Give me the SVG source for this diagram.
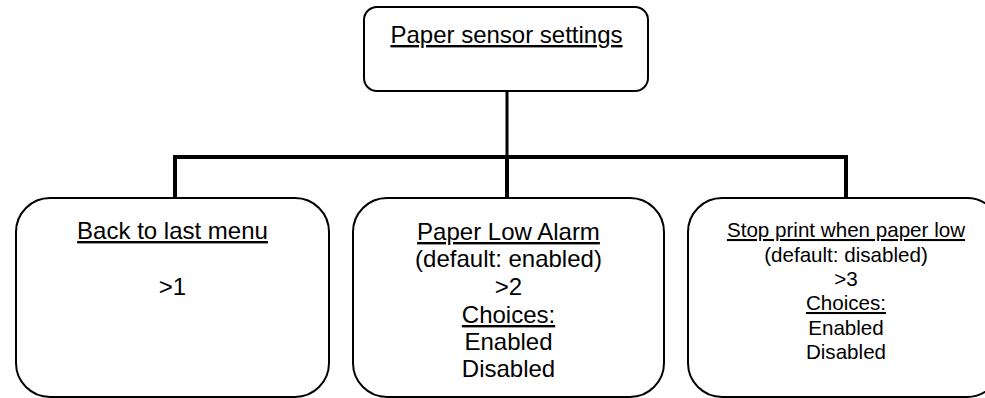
<svg xmlns="http://www.w3.org/2000/svg" width="985" height="398" viewBox="0 0 985 398">
<style>
.box{fill:#fff;stroke:#000;stroke-width:2}
.t{font-family:"Liberation Sans",Arial,sans-serif;font-size:24px;fill:#000;text-anchor:middle}
.s{font-size:20.6px}
.u{text-decoration:underline}
.c{fill:none;stroke:#000;stroke-linecap:butt}
</style>
<rect width="985" height="398" fill="#fff"/>
<g id="connectors">
<line class="c" x1="507" y1="91" x2="507" y2="157" stroke-width="3"/>
<line class="c" x1="173" y1="157" x2="848" y2="157" stroke-width="4"/>
<line class="c" x1="175" y1="155" x2="175" y2="198" stroke-width="4"/>
<line class="c" x1="507" y1="155" x2="507" y2="198" stroke-width="4"/>
<line class="c" x1="846" y1="155" x2="846" y2="198" stroke-width="4"/>
</g>
<g id="root">
<rect class="box" x="364" y="7" width="284" height="84" rx="13"/>
<text class="t u" x="506.5" y="43">Paper sensor settings</text>
</g>
<g id="back">
<rect class="box" x="16" y="198" width="313" height="199" rx="34"/>
<text class="t u" x="172.5" y="239">Back to last menu</text>
<text class="t" x="172.5" y="295">&gt;1</text>
</g>
<g id="alarm">
<rect class="box" x="353" y="198" width="311" height="199" rx="34"/>
<text class="t" x="508.5" y="240"><tspan class="u">Paper Low Alarm</tspan><tspan x="508.5" y="267">(default: enabled)</tspan><tspan x="508.5" y="295">&gt;2</tspan><tspan class="u" x="508.5" y="323">Choices:</tspan><tspan x="508.5" y="350">Enabled</tspan><tspan x="508.5" y="377">Disabled</tspan></text>
</g>
<g id="stop">
<rect class="box" x="688" y="198" width="313" height="199" rx="34"/>
<text class="t s" x="846" y="237"><tspan class="u">Stop print when paper low</tspan><tspan x="846" y="262">(default: disabled)</tspan><tspan x="846" y="286">&gt;3</tspan><tspan class="u" x="846" y="310">Choices:</tspan><tspan x="846" y="335">Enabled</tspan><tspan x="846" y="359">Disabled</tspan></text>
</g>
</svg>
